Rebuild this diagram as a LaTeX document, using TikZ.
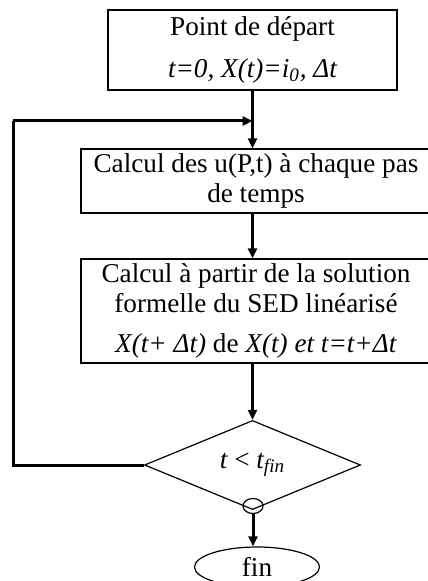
\documentclass[tikz,border=0pt]{standalone}
\usepackage{fontspec}
\setmainfont{Liberation Serif}
\usepackage{tikz}
\usetikzlibrary{shapes.geometric, arrows.meta, positioning, calc}

\begin{document}
\begin{tikzpicture}[
    x=0.5pt, y=-0.5pt,
    font=\fontsize{13.6}{15}\selectfont,
    procbox/.style={rectangle, draw, line width=0.6pt, align=center, inner sep=0pt},
    testnode/.style={diamond, draw, line width=0.6pt, inner sep=0pt, minimum width=108pt, minimum height=33.5pt},
    endnode/.style={ellipse, draw, line width=0.6pt, inner sep=0pt},
    arrow/.style={-{Triangle[length=5pt, width=4.5pt]}, line width=1.5pt},
    backline/.style={line width=1.5pt}
]
\useasboundingbox (0,0) rectangle (427,581);

\node[procbox, minimum width=144.5pt, minimum height=40pt] (start) at (252.5,50)
    {Point de départ\\[6pt] \itshape t=0, X(t)=i\textsubscript{0}, Δt};
\node[procbox, minimum width=175pt, minimum height=32pt] (calcu) at (256,181)
    {Calcul des u(P,t) à chaque pas\\ de temps};
\node[procbox, minimum width=175pt, minimum height=52pt] (formel) at (256,311)
    {Calcul à partir de la solution\\ formelle du SED linéarisé\\[5pt]
     \textit{X(t+ Δt)} de \textit{X(t) et t=t+Δt}};
\node[testnode] (test) at (252.5,465) {\itshape t {\upshape <} t\textsubscript{fin}};
\node[endnode, minimum width=10pt, minimum height=7.5pt] (sortie) at (253,506) {};
\node[endnode, minimum width=62.5pt, minimum height=20pt] (fin) at (257,567) {fin};

\coordinate (coin) at (13,121);
\coordinate (retour) at (252.5,121);

% tronc principal
\draw[arrow] (start.south) -- (start.south |- calcu.north);
\draw[arrow] (calcu.south -| start.south) -- (formel.north -| start.south);
\draw[arrow] (formel.south -| test.north) -- (test.north);
\draw[arrow] (sortie.south) -- (sortie.south |- fin.north);

% boucle
\draw[backline] (test.west) -| (coin);
\draw[arrow] (coin) -- (retour);
\end{tikzpicture}
\end{document}
